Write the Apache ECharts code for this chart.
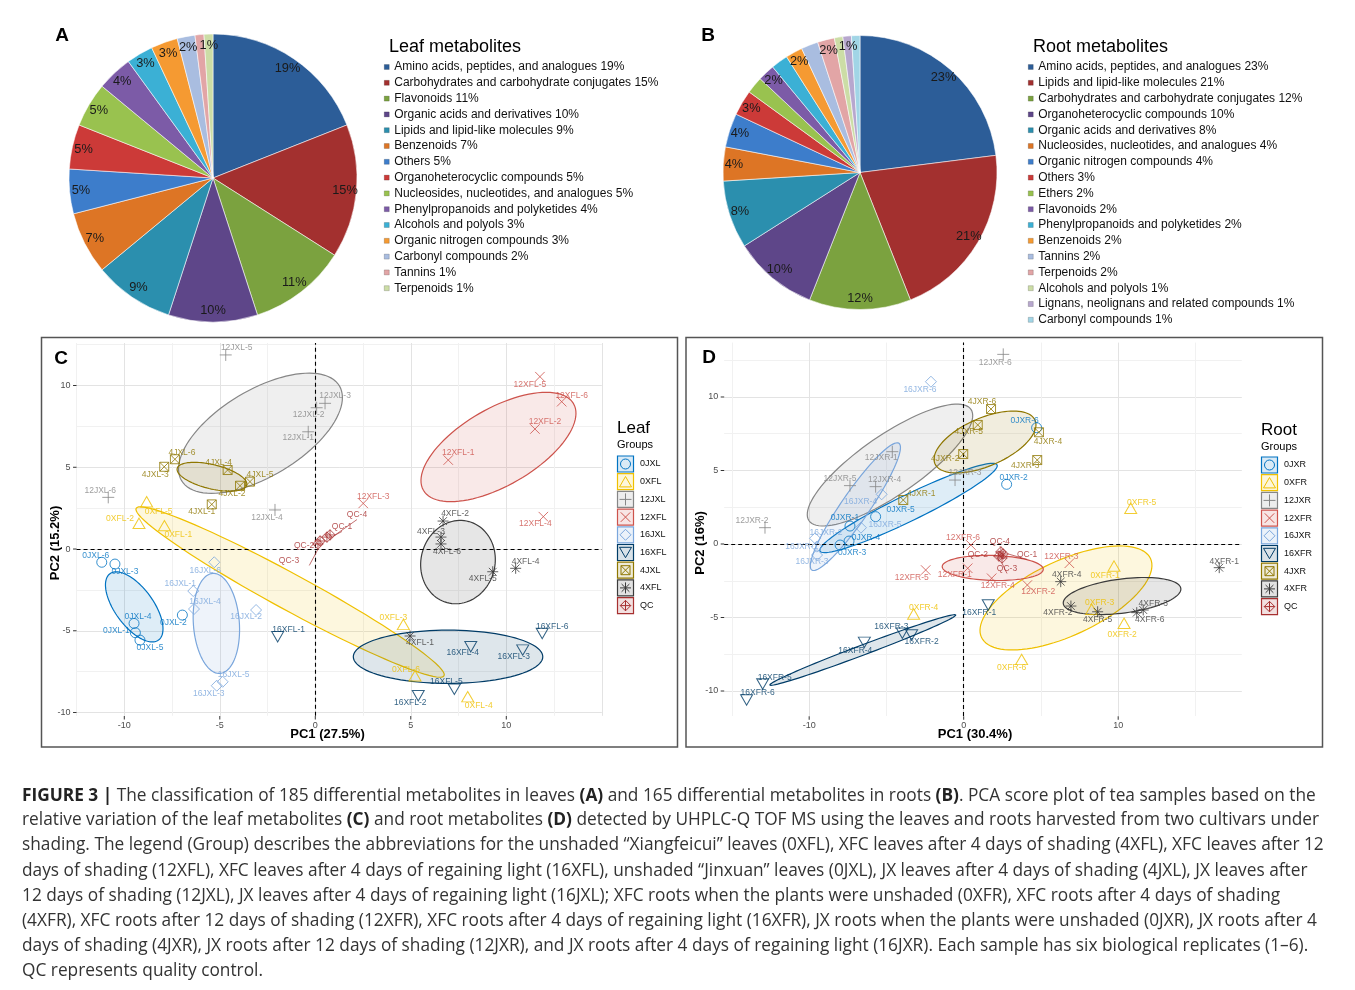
<!DOCTYPE html>
<html><head><meta charset="utf-8">
<script src="https://cdn.jsdelivr.net/npm/echarts/dist/echarts.min.js"></script>
<style>html,body{margin:0;padding:0;background:#fff}#c{width:1355px;height:990px}</style>
</head><body><div id="c"></div>
<script>
// ---------------- DATA ----------------
const leafCategories = ['Amino acids, peptides, and analogues','Carbohydrates and carbohydrate conjugates','Flavonoids','Organic acids and derivatives','Lipids and lipid-like molecules','Benzenoids','Others','Organoheterocyclic compounds','Nucleosides, nucleotides, and analogues','Phenylpropanoids and polyketides','Alcohols and polyols','Organic nitrogen compounds','Carbonyl compounds','Tannins','Terpenoids'];
const leafPercents = [19,15,11,10,9,7,5,5,5,4,3,3,2,1,1];
const rootCategories = ['Amino acids, peptides, and analogues','Lipids and lipid-like molecules','Carbohydrates and carbohydrate conjugates','Organoheterocyclic compounds','Organic acids and derivatives','Nucleosides, nucleotides, and analogues','Organic nitrogen compounds','Others','Ethers','Flavonoids','Phenylpropanoids and polyketides','Benzenoids','Tannins','Terpenoids','Alcohols and polyols','Lignans, neolignans and related compounds','Carbonyl compounds'];
const rootPercents = [23,21,12,10,8,4,4,3,2,2,2,2,2,2,1,1,1];

const leafGroups = ['0JXL','0XFL','12JXL','12XFL','16JXL','16XFL','4JXL','4XFL','QC'];
const rootGroups = ['0JXR','0XFR','12JXR','12XFR','16JXR','16XFR','4JXR','4XFR','QC'];

// PCA scores [sample, PC1, PC2]
const leaf_0JXL = [['0JXL-1',-9.42,-5.12],['0JXL-2',-6.96,-4.04],['0JXL-3',-10.49,-0.92],['0JXL-4',-9.49,-4.55],['0JXL-5',-9.18,-5.57],['0JXL-6',-11.18,-0.81]];
const leaf_0XFL = [['0XFL-1',-7.90,1.43],['0XFL-2',-9.23,1.57],['0XFL-3',4.61,-4.61],['0XFL-4',7.98,-9.03],['0XFL-5',-8.83,2.89],['0XFL-6',5.22,-7.75]];
const leaf_12JXL = [['12JXL-1',-0.37,7.17],['12JXL-2',0.07,8.64],['12JXL-3',0.51,8.91],['12JXL-4',-2.11,2.39],['12JXL-5',-4.69,11.87],['12JXL-6',-10.84,3.16]];
const leaf_12XFL = [['12XFL-1',6.96,5.44],['12XFL-2',11.50,7.34],['12XFL-3',2.51,2.79],['12XFL-4',11.94,1.98],['12XFL-5',11.76,10.54],['12XFL-6',12.90,9.01]];
const leaf_16JXL = [['16JXL-1',-6.39,-2.57],['16JXL-2',-3.10,-3.73],['16JXL-3',-5.16,-8.36],['16JXL-4',-6.35,-3.67],['16JXL-5',-4.85,-8.12],['16JXL-6',-5.29,-0.81]];
const leaf_16XFL = [['16XFL-1',-1.97,-5.36],['16XFL-2',5.39,-8.97],['16XFL-3',10.86,-6.18],['16XFL-4',8.14,-5.97],['16XFL-5',7.28,-8.58],['16XFL-6',11.88,-5.16]];
const leaf_4JXL = [['4JXL-1',-5.42,2.73],['4JXL-2',-3.94,3.87],['4JXL-3',-7.91,5.03],['4JXL-4',-4.59,4.83],['4JXL-5',-3.42,4.12],['4JXL-6',-7.35,5.49]];
const leaf_4XFL = [['4XFL-1',4.96,-5.32],['4XFL-2',6.69,1.71],['4XFL-3',6.58,0.73],['4XFL-4',10.49,-1.18],['4XFL-5',9.29,-1.39],['4XFL-6',6.58,0.31]];
const leaf_QC = [['QC-1',0.77,0.86],['QC-2',0.25,0.49],['QC-3',0.14,0.31],['QC-4',0.61,0.73]];

const root_0JXR = [['0JXR-1',-7.36,1.22],['0JXR-2',2.78,4.06],['0JXR-3',-8.00,-0.07],['0JXR-4',-7.42,0.20],['0JXR-5',-5.70,1.86],['0JXR-6',4.72,7.91]];
const root_0XFR = [['0XFR-1',9.73,-1.50],['0XFR-2',10.38,-5.39],['0XFR-3',8.28,-4.44],['0XFR-4',-3.24,-4.76],['0XFR-5',10.81,2.43],['0XFR-6',3.75,-7.85]];
const root_12JXR = [['12JXR-1',-4.62,6.28],['12JXR-2',-12.86,1.11],['12JXR-3',-0.56,4.35],['12JXR-4',-5.70,3.90],['12JXR-5',-7.36,3.97],['12JXR-6',2.56,12.90]];
const root_12XFR = [['12XFR-1',0.26,-1.65],['12XFR-2',4.12,-2.79],['12XFR-3',6.84,-1.31],['12XFR-4',1.81,-2.33],['12XFR-5',-2.46,-1.77],['12XFR-6',0.47,-0.07]];
const root_16JXR = [['16JXR-1',-9.51,-0.18],['16JXR-2',-9.62,0.39],['16JXR-3',-9.49,-0.75],['16JXR-4',-5.31,3.38],['16JXR-5',-6.65,1.11],['16JXR-6',-2.12,11.04]];
const root_16XFR = [['16XFR-1',1.59,-4.15],['16XFR-2',-3.37,-6.19],['16XFR-3',-3.97,-6.07],['16XFR-4',-6.43,-6.69],['16XFR-5',-13.01,-9.52],['16XFR-6',-14.05,-10.61]];
const root_4JXR = [['4JXR-1',-3.91,2.99],['4JXR-2',-0.03,6.12],['4JXR-3',4.76,5.71],['4JXR-4',4.87,7.60],['4JXR-5',0.91,8.10],['4JXR-6',1.77,9.18]];
const root_4XFR = [['4XFR-1',16.54,-1.61],['4XFR-2',6.94,-4.22],['4XFR-3',11.62,-4.49],['4XFR-4',6.28,-2.56],['4XFR-5',8.67,-4.61],['4XFR-6',11.20,-4.67]];
const root_QC = [['QC-1',2.55,-0.68],['QC-2',2.28,-0.82],['QC-3',2.48,-0.95],['QC-4',2.41,-0.54]];

// confidence ellipses [group, centre PC1, centre PC2, half-axis u (PC1,PC2), conjugate half-axis v (PC1,PC2)]
const leafEllipses = [
  ['0JXL', -9.48,-3.54, 1.27,-2.03, 0.81,0.69],
  ['0XFL', -1.32,-2.63, 8.06,-5.12, -0.45,-0.97],
  ['12JXL', -2.87,7.08, 4.13,2.90, 1.16,-2.26],
  ['12XFL', 9.59,6.24, 3.93,2.65, 1.01,-2.04],
  ['16JXL', -5.18,-4.55, 0.19,-3.06, 1.20,0.10],
  ['16XFL', 6.95,-6.59, 4.96,0, 0,1.63],
  ['4JXL', -5.41,4.42, 1.82,-0.51, -0.15,-0.72],
  ['4XFL', 7.47,-0.80, 0.57,2.48, 1.87,-0.59]
];
const rootEllipses = [
  ['0JXR', -3.57,2.45, 5.73,2.93, 0.37,-0.80],
  ['0XFR', 6.62,-3.67, 5.47,2.68, 1.02,-2.31],
  ['12JXR', -4.77,5.37, 5.24,3.79, 1.10,-1.68],
  ['12XFR', 1.88,-1.63, 3.27,-0.09, 0,0.85],
  ['16JXR', -7.01,2.54, 2.82,4.31, 0.75,-0.54],
  ['16XFR', -6.53,-7.21, 6.01,2.38, 0.11,-0.32],
  ['4JXR', 1.38,6.94, 3.24,1.48, 0.62,-1.50],
  ['4XFR', 10.25,-3.54, 3.80,0.54, 0.22,-1.14]
];

const leafTickLabelsX = [-10,-5,0,5,10];
const rootTickLabelsX = [-10,0,10];
const tickLabelsY = [-10,-5,0,5,10];

// ---------------- STYLE / LAYOUT ----------------
const LEAF_NUDGE = {
 '0JXL-1':[-19,-2],'0JXL-2':[-9,8],'0JXL-3':[10,8],'0JXL-4':[4,-7],'0JXL-5':[10,8],'0JXL-6':[-6,-7],
 '0XFL-1':[14,9],'0XFL-2':[-19,-5],'0XFL-3':[-10,-7],'0XFL-4':[11,9],'0XFL-5':[12,10],'0XFL-6':[-9,-6],
 '12JXL-1':[-10,6],'12JXL-2':[-8,7],'12JXL-3':[10,-8],'12JXL-4':[-8,8],'12JXL-5':[11,-7],'12JXL-6':[-8,-7],
 '12XFL-1':[10,-7],'12XFL-2':[10,-7],'12XFL-3':[10,-7],'12XFL-4':[-8,7],'12XFL-5':[-10,8],'12XFL-6':[10,-6],
 '16JXL-1':[-13,-7],'16JXL-2':[-10,7],'16JXL-3':[-8,8],'16JXL-4':[11,-7],'16JXL-5':[11,-7],'16JXL-6':[-9,8],
 '16XFL-1':[11,-7],'16XFL-2':[-8,7],'16XFL-3':[-9,7],'16XFL-4':[-8,6],'16XFL-5':[-8,-8],'16XFL-6':[10,-7],
 '4JXL-1':[-10,7],'4JXL-2':[-8,8],'4JXL-3':[-9,8],'4JXL-4':[-9,-7],'4JXL-5':[10,-7],'4JXL-6':[7,-7],
 '4XFL-1':[10,7],'4XFL-2':[12,-7],'4XFL-3':[-10,-5],'4XFL-4':[10,-7],'4XFL-5':[-10,7],'4XFL-6':[6,8],
 'QC-1':[12,-8],'QC-2':[-16,5],'QC-3':[-29,17],'QC-4':[30,-22]
};
const ROOT_NUDGE = {
 '0JXR-1':[-5,-8],'0JXR-2':[7,-7],'0JXR-3':[12,8],'0JXR-4':[17,-3],'0JXR-5':[25,-7],'0JXR-6':[-12,-7],
 '0XFR-1':[-9,10],'0XFR-2':[-2,11],'0XFR-3':[8,-7],'0XFR-4':[10,-6],'0XFR-5':[11,-6],'0XFR-6':[-10,8],
 '12JXR-1':[-11,6],'12JXR-2':[-13,-7],'12JXR-3':[10,-7],'12JXR-4':[9,-7],'12JXR-5':[-10,-7],'12JXR-6':[-8,8],
 '12XFR-1':[-13,6],'12XFR-2':[11,7],'12XFR-3':[-8,-7],'12XFR-4':[6,7],'12XFR-5':[-14,8],'12XFR-6':[-8,-7],
 '16JXR-1':[-15,0],'16JXR-2':[11,-6],'16JXR-3':[-5,7],'16JXR-4':[-21,7],'16JXR-5':[24,-3],'16JXR-6':[-11,8],
 '16XFR-1':[-9,8],'16XFR-2':[10,7],'16XFR-3':[-11,-7],'16XFR-4':[-9,8],'16XFR-5':[12,-6],'16XFR-6':[11,-7],
 '4JXR-1':[18,-6],'4JXR-2':[-18,5],'4JXR-3':[-12,6],'4JXR-4':[9,9],'4JXR-5':[-9,7],'4JXR-6':[-9,-7],
 '4XFR-1':[5,-6],'4XFR-2':[-13,7],'4XFR-3':[10,-6],'4XFR-4':[6,-7],'4XFR-5':[0,8],'4XFR-6':[13,7],
 'QC-1':[24,1],'QC-2':[-21,-1],'QC-3':[5,11],'QC-4':[-1,-10]
};

const JCO = ['#0073C2','#EFC000','#868686','#CD534C','#7AA6DC','#003C67','#8F7700','#3B3B3B','#A73030'];
const PIE_COLORS = ['#2C5D98','#A3302F','#7BA23F','#5E4689','#2B8FAE','#DD7525','#3D7DCB','#CC3A38','#99C24F','#7C5BA7','#3BB0D5','#F59A32','#A9BDE0','#E2A5A6','#CCDDA6','#B7A7CE','#A1D5E6'];
const SYM_PATH = [
  'M0,5A5,5,0,1,1,10,5A5,5,0,1,1,0,5Z',
  'M5,0L10,8.66L0,8.66Z',
  'M5,0L5,10M0,5L10,5',
  'M0,0L10,10M10,0L0,10',
  'M5,0L10,5L5,10L0,5Z',
  'M0,0L10,0L5,8.66Z',
  'M0,0L10,0L10,10L0,10ZM0,0L10,10M10,0L0,10',
  'M5,0L5,10M0,5L10,5M1.46,1.46L8.54,8.54M8.54,1.46L1.46,8.54',
  'M5,0L10,5L5,10L0,5ZM5,0L5,10M0,5L10,5'
];
const SYM_SIZE = [10,[12,10.4],12,9.5,11,[12,10.4],9,11,10.5];
const FONT = 'Liberation Sans, Arial, sans-serif';
const STEP = 0.1;

function rgba(hex, a){const n=parseInt(hex.slice(1),16);return 'rgba('+(n>>16)+','+((n>>8)&255)+','+(n&255)+','+a+')';}
function isMult(v, m){const q=v/m;return Math.abs(q-Math.round(q))<1e-6;}
function gridColors(min,max,step,major,minor){
  const arr=[];const n=Math.floor((max-min)/step+1e-6);
  for(let i=0;i<=n;i++){const v=min+i*step;
    arr.push(isMult(v,major)?'#e3e3e3':(isMult(v,minor)?'#f1f1f1':'rgba(0,0,0,0)'));}
  if(!isMult(max-min,step))arr.push('rgba(0,0,0,0)');
  return arr;
}
const TICK_RICH = {
  v:{fontSize:9,fontFamily:FONT,color:'#4d4d4d',lineHeight:11},
  tx:{width:1,height:3.5,backgroundColor:'#333333',lineHeight:4},
  ty:{width:3.5,height:1,backgroundColor:'#333333'}
};
function axis(gridIndex,min,max,labels,major,minor,isX){
  return {type:'value',gridIndex,min,max,interval:STEP,
    axisLine:{show:false},axisTick:{show:false},
    axisLabel:{formatter:v=>{
        if(!labels.some(l=>Math.abs(l-v)<1e-6))return '';
        const s=String(Math.round(v));
        return isX?'{tx|}\n{v|'+s+'}':'{v|'+s+' }{ty|}';
      },rich:TICK_RICH,margin:0,color:'#4d4d4d',fontSize:9,fontFamily:FONT},
    splitLine:{show:true,lineStyle:{color:gridColors(min,max,STEP,major,minor),width:1}}};
}
function ellipseSeries(list,groups,idx){
  return {type:'custom',coordinateSystem:'cartesian2d',xAxisIndex:idx,yAxisIndex:idx,silent:true,z:1,clip:true,
    data:list.map(e=>[e[1],e[2],e[3],e[4],e[5],e[6],groups.indexOf(e[0])]),
    encode:{x:0,y:1},
    renderItem(params,api){
      const cx=api.value(0),cy=api.value(1),ux=api.value(2),uy=api.value(3),vx=api.value(4),vy=api.value(5),g=api.value(6);
      const pts=[];
      for(let i=0;i<96;i++){const t=i/96*Math.PI*2;
        pts.push(api.coord([cx+ux*Math.cos(t)+vx*Math.sin(t),cy+uy*Math.cos(t)+vy*Math.sin(t)]));}
      return {type:'polygon',shape:{points:pts},style:{fill:rgba(JCO[g],0.13),stroke:JCO[g],lineWidth:1.2}};
    }};
}
function scatter(pts,gi,idx,nudge,name){
  const c=JCO[gi];
  const s={type:'scatter',name,xAxisIndex:idx,yAxisIndex:idx,z:5,silent:true,
    symbol:'path://'+SYM_PATH[gi],symbolSize:SYM_SIZE[gi],
    itemStyle:{color:'rgba(0,0,0,0)',borderColor:c,borderWidth:1},
    label:{show:true,position:'inside',formatter:p=>p.name,color:c,fontSize:8.5,fontFamily:FONT},
    data:pts.map(p=>({name:p[0],value:[p[1],p[2]],label:{offset:nudge[p[0]]||[0,-8]}}))};
  if(name==='QC'){s.labelLine={show:true,lineStyle:{color:c,width:0.7}};}
  return s;
}
function zeroLines(idx){
  return {type:'scatter',xAxisIndex:idx,yAxisIndex:idx,data:[],z:3,silent:true,
    markLine:{silent:true,symbol:['none','none'],label:{show:false},animation:false,
      lineStyle:{type:[4,3],color:'#000',width:1.1},data:[{xAxis:0},{yAxis:0}]}};
}
function pieSeries(center,r,cats,vals){
  const data=cats.map((n,i)=>({name:n,value:vals[i],itemStyle:{color:PIE_COLORS[i]}}));
  return [
    {type:'pie',center,radius:r,startAngle:90,clockwise:true,silent:true,label:{show:false},labelLine:{show:false},
      itemStyle:{borderColor:'rgba(255,255,255,0.55)',borderWidth:1},data},
    {type:'pie',center,radius:[r*0.8,r],startAngle:90,clockwise:true,silent:true,labelLine:{show:false},
      itemStyle:{color:'rgba(0,0,0,0)',borderWidth:0},
      label:{show:true,position:'inside',formatter:'{c}%',fontSize:12.8,fontFamily:FONT,color:'#1a1a1a'},
      data:cats.map((n,i)=>({name:n,value:vals[i],itemStyle:{color:'rgba(0,0,0,0)'}}))}
  ];
}
function pieLegend(left,cats,vals){
  return {orient:'vertical',left,top:60,padding:0,itemWidth:5,itemHeight:5,itemGap:1.8,icon:'rect',selectedMode:false,
    textStyle:{fontSize:12,fontFamily:FONT,color:'#111',lineHeight:14},
    formatter:n=>n+' '+vals[cats.indexOf(n)]+'%',
    data:cats.map((n,i)=>({name:n,itemStyle:{color:PIE_COLORS[i],borderColor:'rgba(0,0,0,0.35)',borderWidth:0.5}}))};
}
// symbol glyph for legend keys built from graphic primitives (same outlines as the plotted symbols)
function symbolEls(gi,cx,cy){
  const c=JCO[gi],sz=SYM_SIZE[gi],w=Array.isArray(sz)?sz[0]:sz,h=Array.isArray(sz)?sz[1]:sz;
  const st={fill:'none',stroke:c,lineWidth:1};
  if(gi===0)return [{type:'circle',shape:{cx,cy,r:w/2},style:st}];
  const els=[];
  SYM_PATH[gi].split('M').filter(s=>s).forEach(sub=>{
    const closed=/Z$/.test(sub);
    const pts=sub.replace('Z','').split('L').map(p=>{const q=p.split(',').map(Number);
      return [cx-w/2+q[0]/10*w, cy-h/2+q[1]/(gi===1||gi===5?8.66:10)*h];});
    els.push({type:closed?'polygon':'polyline',shape:{points:pts},style:st});
  });
  return els;
}
function ggLegend(x,titleY,title,groups,firstY){
  const els=[
    {type:'text',x,y:titleY,style:{text:title,fontSize:17,fontFamily:FONT,fill:'#000',textVerticalAlign:'middle'}},
    {type:'text',x,y:titleY+16.5,style:{text:'Groups',fontSize:11,fontFamily:FONT,fill:'#000',textVerticalAlign:'middle'}}];
  groups.forEach((g,i)=>{const cy=firstY+i*17.7;
    els.push({type:'rect',shape:{x:x+0.5,y:cy-8,width:16,height:16},style:{fill:rgba(JCO[i],0.15),stroke:JCO[i],lineWidth:1.2}});
    els.push(...symbolEls(i,x+8.5,cy));
    els.push({type:'text',x:x+23,y:cy,style:{text:g,fontSize:9,fontFamily:FONT,fill:'#111',textVerticalAlign:'middle'}});
  });
  return els;
}

const CAP = 'Open Sans, Noto Sans, sans-serif';
const CAP_SIZE = 17.3;
const capLines = [
 '{b|FIGURE 3 |} The classification of 185 differential metabolites in leaves {b|(A)} and 165 differential metabolites in roots {b|(B)}. PCA score plot of tea samples based on the',
 'relative variation of the leaf metabolites {b|(C)} and root metabolites {b|(D)} detected by UHPLC-Q TOF MS using the leaves and roots harvested from two cultivars under',
 'shading. The legend (Group) describes the abbreviations for the unshaded “Xiangfeicui” leaves (0XFL), XFC leaves after 4 days of shading (4XFL), XFC leaves after 12',
 'days of shading (12XFL), XFC leaves after 4 days of regaining light (16XFL), unshaded “Jinxuan” leaves (0JXL), JX leaves after 4 days of shading (4JXL), JX leaves after',
 '12 days of shading (12JXL), JX leaves after 4 days of regaining light (16JXL); XFC roots when the plants were unshaded (0XFR), XFC roots after 4 days of shading',
 '(4XFR), XFC roots after 12 days of shading (12XFR), XFC roots after 4 days of regaining light (16XFR), JX roots when the plants were unshaded (0JXR), JX roots after 4',
 'days of shading (4JXR), JX roots after 12 days of shading (12JXR), and JX roots after 4 days of regaining light (16JXR). Each sample has six biological replicates (1–6).',
 'QC represents quality control.'
];
const capY = [796,820.5,845.5,871,896,921,946,971];

const graphics = [];
[['A',62,36],['B',708,36],['C',61,359],['D',709,358]].forEach(t=>graphics.push({type:'text',x:t[1],y:t[2],
  style:{text:t[0],fontSize:19,fontWeight:'bold',fontFamily:FONT,fill:'#000',textAlign:'center',textVerticalAlign:'middle'}}));
graphics.push({type:'text',x:389,y:47,style:{text:'Leaf metabolites',fontSize:18,fontFamily:FONT,fill:'#000',textVerticalAlign:'middle'}});
graphics.push({type:'text',x:1033,y:47,style:{text:'Root metabolites',fontSize:18,fontFamily:FONT,fill:'#000',textVerticalAlign:'middle'}});
graphics.push({type:'rect',shape:{x:41.5,y:337.5,width:636,height:409.5},style:{fill:'none',stroke:'#555',lineWidth:1.5},z:10});
graphics.push({type:'rect',shape:{x:686,y:337.5,width:636.5,height:409.5},style:{fill:'none',stroke:'#555',lineWidth:1.5},z:10});
[['PC1 (27.5%)',327.5,734.5,0],['PC2 (15.2%)',55,543,Math.PI/2],['PC1 (30.4%)',975,734.5,0],['PC2 (16%)',700,543,Math.PI/2]].forEach(t=>
  graphics.push({type:'text',x:t[1],y:t[2],rotation:t[3],style:{text:t[0],fontSize:13,fontWeight:'bold',fontFamily:FONT,fill:'#000',textAlign:'center',textVerticalAlign:'middle'}}));
graphics.push(...ggLegend(617,428,'Leaf',leafGroups,464));
graphics.push(...ggLegend(1261,430,'Root',rootGroups,465));
capLines.forEach((l,i)=>graphics.push({type:'text',x:22,y:capY[i],style:{text:l,fontSize:CAP_SIZE,fontFamily:CAP,fill:'#333',textVerticalAlign:'middle',
  rich:{b:{fontSize:CAP_SIZE,fontFamily:CAP,fontWeight:'bold',fill:'#222'}}}}));

const leafSets=[leaf_0JXL,leaf_0XFL,leaf_12JXL,leaf_12XFL,leaf_16JXL,leaf_16XFL,leaf_4JXL,leaf_4XFL,leaf_QC];
const rootSets=[root_0JXR,root_0XFR,root_12JXR,root_12XFR,root_16JXR,root_16XFR,root_4JXR,root_4XFR,root_QC];

const series=[
  ...pieSeries([213,178],144,leafCategories,leafPercents),
  ...pieSeries([860,172.5],137,rootCategories,rootPercents),
  ellipseSeries(leafEllipses,leafGroups,0),
  ellipseSeries(rootEllipses,rootGroups,1),
  zeroLines(0),zeroLines(1),
  ...leafSets.map((s,i)=>scatter(s,i,0,LEAF_NUDGE,leafGroups[i])),
  ...rootSets.map((s,i)=>scatter(s,i,1,ROOT_NUDGE,rootGroups[i]))
];

// panel extents (data units): C x[-12.5,15] y[-10.2,12.6]; D x[-15.5,18] y[-11.7,13.7]
const chart=echarts.init(document.getElementById('c'));
chart.setOption({
  animation:false,
  textStyle:{fontFamily:FONT},
  legend:[pieLegend(384,leafCategories,leafPercents),pieLegend(1028,rootCategories,rootPercents)],
  grid:[
    {left:76.55,top:343,width:525.25,height:372.8,containLabel:false},
    {left:724.2,top:342.6,width:517.6,height:373.4,containLabel:false}
  ],
  xAxis:[axis(0,-12.5,15,leafTickLabelsX,5,2.5,true),axis(1,-15.5,18,rootTickLabelsX,10,5,true)],
  yAxis:[axis(0,-10.2,12.6,tickLabelsY,5,2.5,false),axis(1,-11.7,13.7,tickLabelsY,5,2.5,false)],
  graphic:graphics,
  series
});
</script></body></html>
